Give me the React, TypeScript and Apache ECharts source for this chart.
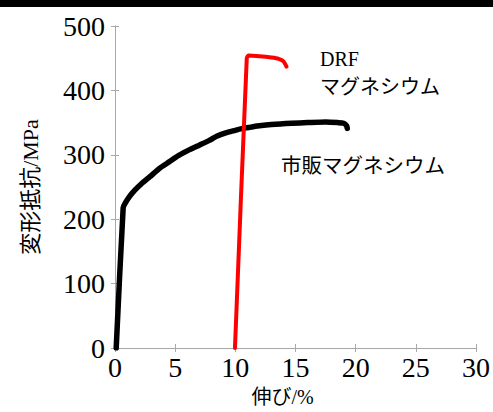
import React, { useEffect, useRef } from "react";
import * as echarts from "echarts";

const xTicks = [0, 5, 10, 15, 20, 25, 30];
const yTicks = [0, 100, 200, 300, 400, 500];

const commercialMg: [number, number][] = [
  [0.1, 0], [0.68, 218], [0.85, 225], [1.2, 235], [1.65, 245], [2.2, 255],
  [2.9, 266], [3.7, 279], [4.5, 289], [5.3, 299], [6.2, 308], [7.0, 315],
  [7.8, 322], [8.5, 329], [9.2, 334], [10.0, 338], [10.6, 341], [11.3, 343],
  [12.0, 345], [13.0, 347], [14.7, 349], [16.0, 350], [17.5, 351],
  [18.5, 350], [19.0, 349], [19.25, 345], [19.3, 341],
];

const drfMg: [number, number][] = [
  [9.97, 0], [10.95, 450], [11.1, 454], [12.0, 453], [13.0, 451],
  [13.6, 449], [14.0, 445], [14.25, 437],
];

const xName = "伸び/%";
const yName = "変形抵抗/MPa";
const drfLabel1 = "DRF";
const drfLabel2 = "マグネシウム";
const commercialLabel = "市販マグネシウム";

const SERIF = "'Liberation Serif', 'Noto Sans CJK JP', serif";
const CJK = "'Noto Sans CJK JP', sans-serif";

export default function App() {
  const ref = useRef<HTMLDivElement>(null);
  useEffect(() => {
    if (!ref.current) return;
    const chart = echarts.init(ref.current, null, { renderer: "svg" });
    const axisLineColor = "#a8a8a8";
    const baseX = {
      type: "value" as const,
      min: xTicks[0],
      max: xTicks[xTicks.length - 1],
      interval: 5,
      splitLine: { show: false },
      axisLine: { show: true, lineStyle: { color: axisLineColor, width: 1 } },
      axisTick: { show: true, inside: true, length: 4, lineStyle: { color: axisLineColor } },
    };
    const baseY = {
      type: "value" as const,
      min: yTicks[0],
      max: yTicks[yTicks.length - 1],
      interval: 100,
      splitLine: { show: false },
      axisLine: { show: true, lineStyle: { color: axisLineColor, width: 1 } },
      axisTick: { show: true, inside: true, length: 4, lineStyle: { color: axisLineColor } },
    };
    chart.setOption({
      animation: false,
      backgroundColor: "#ffffff",
      grid: { left: 115, right: 14, top: 26, bottom: 61, containLabel: false },
      xAxis: [
        {
          ...baseX,
          position: "bottom",
          name: xName,
          nameLocation: "middle",
          nameGap: 39,
          nameTextStyle: {
            fontSize: 20,
            fontFamily: SERIF,
            color: "#000",
            padding: [0, 26, 0, 0],
          },
          axisLabel: { fontSize: 28, fontFamily: SERIF, color: "#000", margin: 5 },
        },
        { ...baseX, position: "top", axisLabel: { show: false } },
      ],
      yAxis: [
        {
          ...baseY,
          position: "left",
          name: yName,
          nameLocation: "middle",
          nameGap: 74,
          nameTextStyle: { fontSize: 22, fontFamily: SERIF, color: "#000" },
          axisLabel: {
            fontSize: 28,
            fontFamily: SERIF,
            color: "#000",
            margin: 10,
            padding: [0, 0, 6, 0],
          },
        },
        { ...baseY, position: "right", axisLabel: { show: false } },
      ],
      graphic: [
        { type: "rect", left: 0, top: 0, shape: { width: 493, height: 7 }, style: { fill: "#000" } },
        {
          type: "text", x: 320, y: 59,
          style: { text: drfLabel1, font: `20px ${SERIF}`, fill: "#000", verticalAlign: "middle" },
        },
        {
          type: "text", x: 320, y: 85,
          style: { text: drfLabel2, font: `20px ${CJK}`, fill: "#000", verticalAlign: "middle" },
        },
        {
          type: "text", x: 281, y: 164,
          style: { text: commercialLabel, font: `20.5px ${CJK}`, fill: "#000", verticalAlign: "middle" },
        },
      ],
      series: [
        {
          type: "line",
          name: "市販マグネシウム",
          xAxisIndex: 0,
          yAxisIndex: 0,
          data: commercialMg,
          showSymbol: false,
          smooth: 0.2,
          lineStyle: { color: "#000", width: 5.5, cap: "round", join: "round" },
          z: 2,
        },
        {
          type: "line",
          name: "DRFマグネシウム",
          xAxisIndex: 0,
          yAxisIndex: 0,
          data: drfMg,
          showSymbol: false,
          smooth: 0.2,
          lineStyle: { color: "#ff0000", width: 4, cap: "round", join: "round" },
          z: 3,
        },
      ],
    });
    return () => chart.dispose();
  }, []);
  return (
    <div
      ref={ref}
      style={{ position: "fixed", left: 0, top: 0, width: 493, height: 412 }}
    />
  );
}
